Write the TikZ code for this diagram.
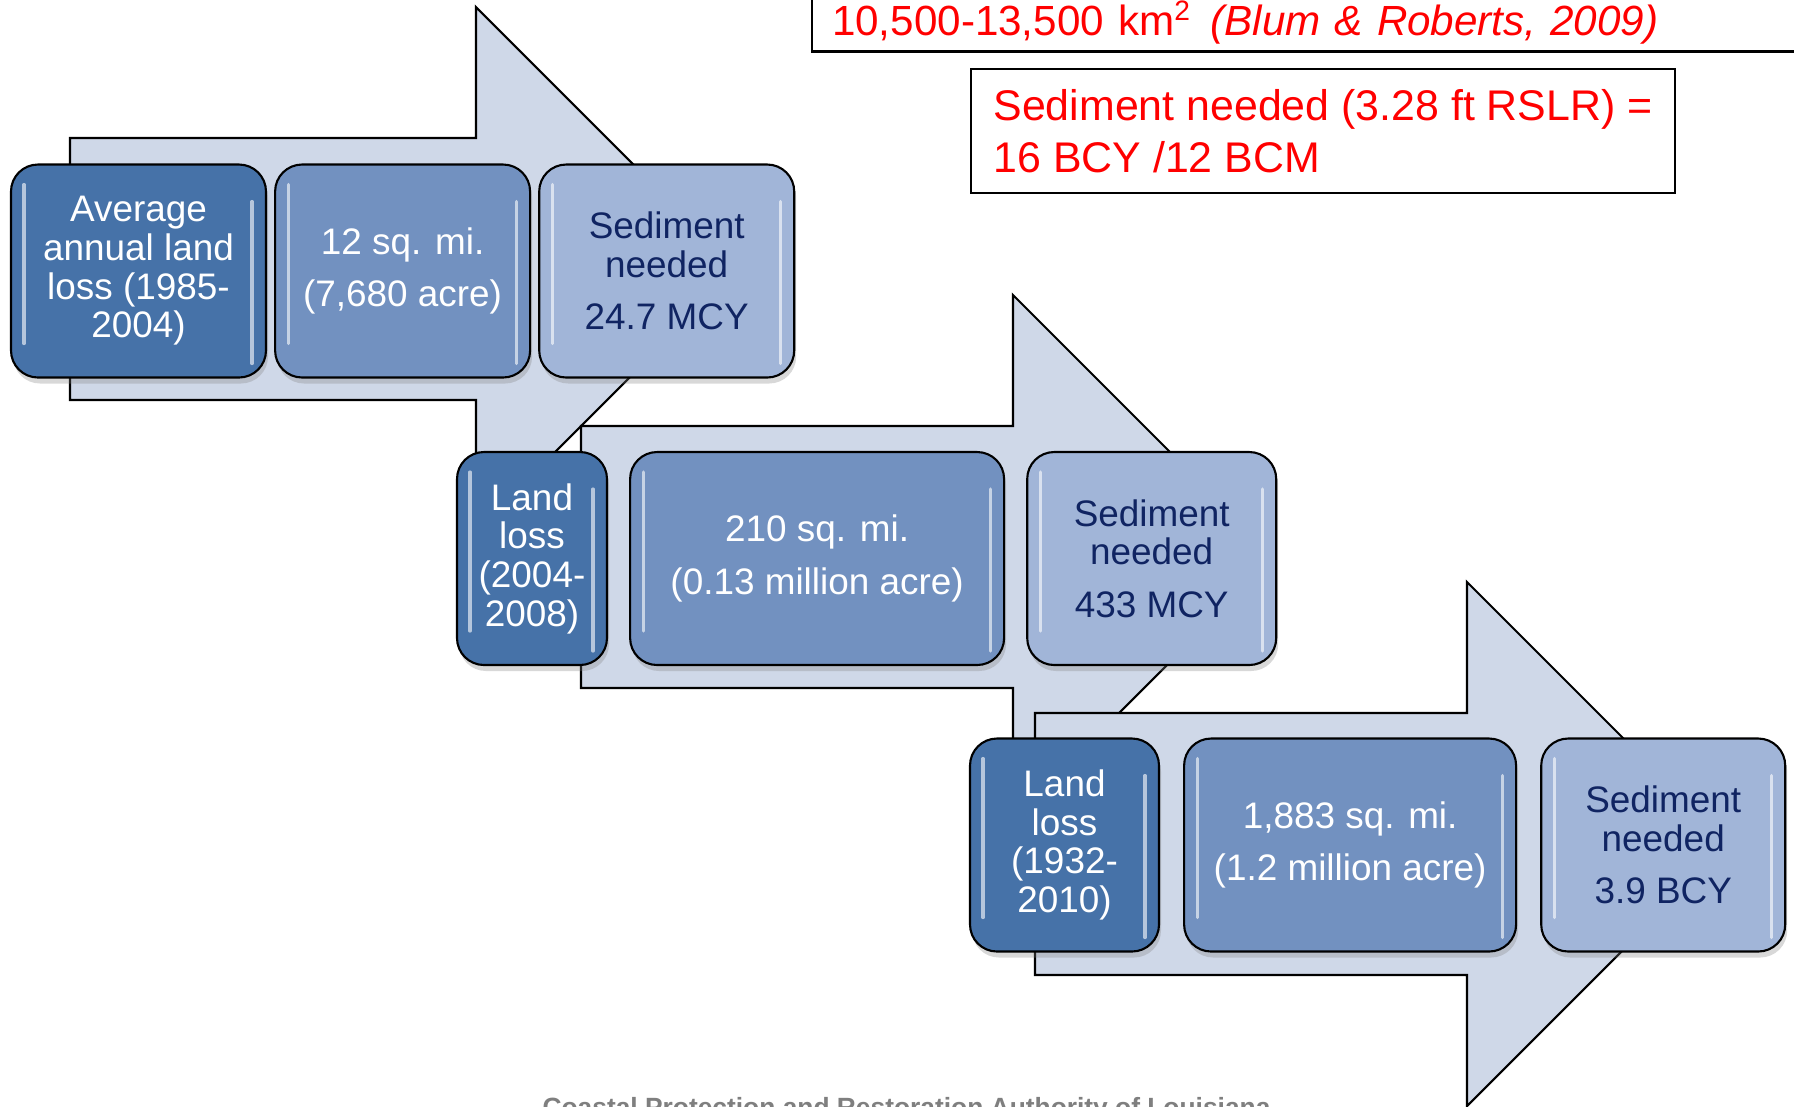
\documentclass[tikz,border=0pt]{standalone}
\usepackage{fontspec}
\setmainfont{Liberation Sans}
\usetikzlibrary{positioning,shadows}

\definecolor{arrowfill}{RGB}{207,216,232}
\definecolor{boxdark}{RGB}{70,114,168}
\definecolor{boxmid}{RGB}{114,145,192}
\definecolor{boxlight}{RGB}{161,181,216}
\definecolor{navytext}{RGB}{16,36,98}
\definecolor{footgray}{RGB}{127,127,127}

\begin{document}
\begin{tikzpicture}[
  x=0.1mm,y=-0.1mm,
  font=\fontsize{10.5}{11}\selectfont,
  flow/.style={draw=black,line width=0.6pt,fill=arrowfill,line join=miter},
  blk/.style={draw=black,line width=0.6pt,rounded corners=2.7mm,
              minimum height=21.3mm,inner sep=1pt,align=center,
              drop shadow={opacity=.3,shadow xshift=.2mm,shadow yshift=-.6mm},
              path picture={
                \draw[white,opacity=.6,line width=.9pt,line cap=round]
                  ([xshift=1.3mm,yshift=-2.0mm]path picture bounding box.north west)
                  -- ([xshift=1.3mm,yshift=3.4mm]path picture bounding box.south west);
                \draw[white,opacity=.6,line width=.9pt,line cap=round]
                  ([xshift=-1.4mm,yshift=-3.7mm]path picture bounding box.north east)
                  -- ([xshift=-1.4mm,yshift=1.4mm]path picture bounding box.south east);}},
  lossbox/.style={blk,fill=boxdark,text=white},
  areabox/.style={blk,fill=boxmid,text=white},
  sedbox/.style={blk,fill=boxlight,text=navytext},
  redbox/.style={draw=black,line width=0.6pt,fill=white,text=red,
                 font=\fontsize{12.2}{14.6}\selectfont,align=left},
]
  \useasboundingbox (0,0) rectangle (1794,1106);
  \clip (0,0) rectangle (1794,1106);
  \fill[white] (0,0) rectangle (1794,1106);

  \draw[flow] (70,138) -- (476,138) -- (476,7) -- (738,269) -- (476,531) -- (476,400) -- (70,400) -- cycle;
  \draw[flow] (581,426) -- (1013,426) -- (1013,295) -- (1275,557) -- (1013,819) -- (1013,688) -- (581,688) -- cycle;
  \draw[flow] (1035,713) -- (1467,713) -- (1467,582) -- (1729,844) -- (1467,1106) -- (1467,975) -- (1035,975) -- cycle;

  \node[lossbox,minimum width=25.5mm] (loss1) at (138.5,271) {Average\\annual land\\loss (1985-\\2004)};
  \node[areabox,minimum width=25.5mm,right=0.7mm of loss1] (area1) {12 sq. mi.\\[4pt](7,680 acre)};
  \node[sedbox,minimum width=25.5mm,right=0.7mm of area1] (sed1) {Sediment\\needed\\[4pt]24.7 MCY};

  \node[lossbox,minimum width=15mm] (loss2) at (532,558.5) {Land\\loss\\(2004-\\2008)};
  \node[areabox,minimum width=37.4mm,right=2.1mm of loss2] (area2) {210 sq. mi.\\[4pt](0.13 million acre)};
  \node[sedbox,minimum width=24.9mm,right=2.1mm of area2] (sed2) {Sediment\\needed\\[4pt]433 MCY};

  \node[lossbox,minimum width=18.9mm] (loss3) at (1064.5,845) {Land\\loss\\(1932-\\2010)};
  \node[areabox,minimum width=33.2mm,right=2.3mm of loss3] (area3) {1,883 sq. mi.\\[4pt](1.2 million acre)};
  \node[sedbox,minimum width=24.4mm,right=2.3mm of area3] (sed3) {Sediment\\needed\\[4pt]3.9 BCY};

  \node[redbox,font=\fontsize{12}{14}\selectfont,anchor=south west,minimum width=100mm,
        minimum height=5.8mm,inner ysep=0pt,text width=96mm,inner xsep=1.4mm] (extent) at (811,52.5)
    {10,500-13,500 km\textsuperscript{2}\hspace{.45em}\textit{(Blum \& Roberts, 2009)}};
  \node[redbox,minimum width=70.4mm,minimum height=12.4mm,inner xsep=1mm] (need) at (1323,131)
    {Sediment needed (3.28 ft RSLR) =\\16 BCY /12 BCM};

  \node[font=\fontsize{7.5}{9}\selectfont\bfseries,text=footgray,anchor=base] (foot)
    at (906.5,1116) {Coastal Protection and Restoration Authority of Louisiana};
\end{tikzpicture}
\end{document}
